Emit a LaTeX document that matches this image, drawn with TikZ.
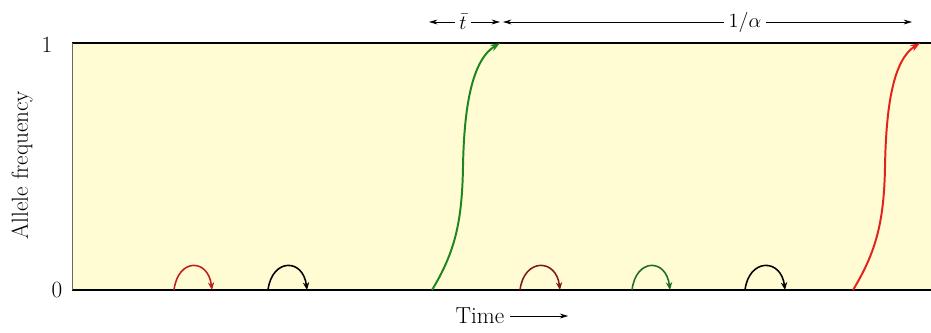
\documentclass[tikz,border=0pt]{standalone}
\usepackage{amsmath,amssymb}
\usepackage{tikz}
\usetikzlibrary{arrows.meta,positioning,calc}
\usepackage{xcolor}
\definecolor{PlotFill}{HTML}{FFFBD3}
\definecolor{SweepGreen}{HTML}{1E861E}
\definecolor{SweepRed}{HTML}{E3221D}
\definecolor{HopRed}{HTML}{C01F1B}
\definecolor{HopBrown}{HTML}{7E1A16}
\definecolor{HopGreen}{HTML}{1D6E22}

\tikzset{
  lbl/.style={font=\fontsize{16.5}{19}\selectfont, inner sep=1pt},
  toplbl/.style={font=\fontsize{15}{18}\selectfont, inner sep=3pt},
  sweep/.style={line width=1.4pt, -{Stealth[length=7pt,width=5pt]}},
  hop/.style={line width=1.1pt, -{Stealth[length=5.5pt,width=4.5pt]}},
  span/.style={line width=0.6pt, -{Stealth[length=6pt,width=3.5pt]}}
}

\begin{document}
\begin{tikzpicture}[x=0.025cm,y=0.025cm]
  \useasboundingbox (0,0) rectangle (931,332);
  % plot area
  \fill[PlotFill] (72,42) rectangle (931,289);
  \draw[line width=1.1pt] (72,289) -- (931,289);
  \draw[line width=1.1pt] (72,42) -- (931,42);
  \draw[line width=0.4pt, black!60] (72,42) -- (72,289);

  % axis labels
  \node[lbl] (one) at (47,287) {1};
  \node[lbl] (zero) at (57,42) {0};
  \node[lbl, rotate=90] (freq) at (22,167) {Allele frequency};
  \node[lbl, inner xsep=4pt] (time) at (480,16) {Time};
  \coordinate[right=58 of time.east] (timeend);
  \draw[span] (time.east) -- (timeend);

  % intervals on top
  \node[toplbl] (tbar) at (463,310) {$\bar{t}$};
  \coordinate (tl) at (429,310);
  \coordinate (tr) at (500,310);
  \draw[span] (tbar.west) -- (tl);
  \draw[span] (tbar.east) -- (tr);
  \node[toplbl] (alpha) at (745,310) {$1/\alpha$};
  \coordinate (al) at (503,310);
  \coordinate (ar) at (912,310);
  \draw[span] (alpha.west) -- (al);
  \draw[span] (alpha.east) -- (ar);

  % fixations
  \coordinate (gs) at (432,42);
  \coordinate (gm) at (463,165);
  \coordinate (ge) at (500,289);
  \draw[sweep, SweepGreen] (gs) .. controls (455,80) and (462,110) .. (gm)
    .. controls (464,225) and (472,272) .. (ge);
  \coordinate (rs) at (853,42);
  \coordinate (rm) at (885,165);
  \coordinate (re) at (920,289);
  \draw[sweep, SweepRed] (rs) .. controls (876,80) and (884,110) .. (rm)
    .. controls (886,225) and (893,272) .. (re);

  % lost mutations
  \foreach \a/\b/\c [count=\i] in {174/212/HopRed, 268/307/black, 520/560/HopBrown, 632/670/HopGreen, 745/785/black}{
    \coordinate (h\i s) at (\a,42);
    \coordinate (h\i e) at (\b,42);
    \draw[hop, \c] (h\i s) .. controls (\a+4,74) and (\b-4,74) .. (h\i e);
  }
\end{tikzpicture}
\end{document}
